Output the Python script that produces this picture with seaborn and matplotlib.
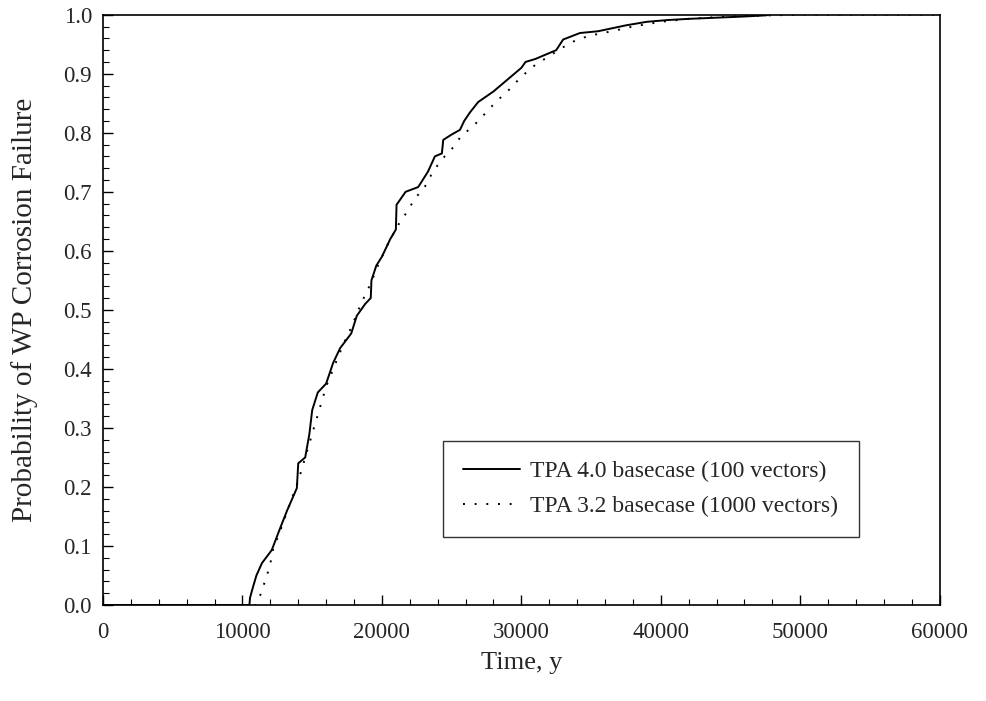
import matplotlib
matplotlib.use("Agg")
import matplotlib.pyplot as plt
import pandas as pd
import seaborn as sns
from matplotlib.ticker import MultipleLocator

# TPA 4.0 basecase (100 vectors)
tpa40_time = [0, 10500, 10540, 10750, 11000, 11400, 12100, 12700, 13200, 13900,
              14000, 14500, 14800, 15000, 15400, 16000, 16500, 17000, 17800, 18200,
              18800, 19200, 19250, 19600, 20000, 20600, 21000, 21050, 21700, 22600,
              23300, 23800, 24300, 24400, 25000, 25600, 25900, 26300, 26900, 28000,
              29000, 30000, 30300, 31000, 32500, 33000, 34200, 35500, 36500, 37500,
              39000, 40500, 42000, 44000, 46000, 47600]
tpa40_prob = [0.0, 0.0, 0.012, 0.03, 0.05, 0.071, 0.093, 0.13, 0.16, 0.198,
              0.24, 0.25, 0.29, 0.33, 0.36, 0.375, 0.41, 0.435, 0.46, 0.49,
              0.51, 0.52, 0.55, 0.575, 0.59, 0.62, 0.636, 0.678, 0.70, 0.708,
              0.734, 0.76, 0.765, 0.788, 0.797, 0.805, 0.82, 0.834, 0.852, 0.87,
              0.89, 0.91, 0.92, 0.925, 0.94, 0.958, 0.969, 0.972, 0.977, 0.982,
              0.988, 0.991, 0.993, 0.995, 0.997, 0.999]

# TPA 3.2 basecase (1000 vectors)
tpa32_time = [0, 11000, 11330, 11610, 11830, 12040, 12200, 12700, 13300, 14000,
              14500, 15000, 15500, 16000, 16600, 17200, 17800, 18500, 19200, 19800,
              20500, 21200, 21800, 22400, 23000, 23700, 24500, 25100, 25700, 26500,
              27300, 28200, 29000, 30000, 31000, 32000, 33000, 34000, 35000, 36500,
              38000, 40000, 42000, 44000, 46000, 48000, 50000, 60000]
tpa32_prob = [0.0, 0.0, 0.02, 0.04, 0.056, 0.075, 0.095, 0.125, 0.165, 0.21,
              0.25, 0.29, 0.33, 0.37, 0.405, 0.44, 0.47, 0.51, 0.545, 0.58,
              0.615, 0.645, 0.666, 0.69, 0.705, 0.736, 0.76, 0.775, 0.795, 0.81,
              0.83, 0.853, 0.87, 0.895, 0.915, 0.93, 0.945, 0.958, 0.965, 0.972,
              0.98, 0.988, 0.993, 0.996, 0.998, 0.999, 1.0, 1.0]

x_ticks = [0, 10000, 20000, 30000, 40000, 50000, 60000]
y_ticks = [0.0, 0.1, 0.2, 0.3, 0.4, 0.5, 0.6, 0.7, 0.8, 0.9, 1.0]

sns.set_theme(style="ticks")
plt.rcParams["font.family"] = ["Liberation Serif", "DejaVu Serif"]

df40 = pd.DataFrame({"time": tpa40_time, "prob": tpa40_prob})
df32 = pd.DataFrame({"time": tpa32_time, "prob": tpa32_prob})

fig = plt.figure(figsize=(9.86, 7.01), dpi=100)
ax = fig.add_axes([0.1045, 0.137, 0.8485, 0.842])

sns.lineplot(data=df40, x="time", y="prob", sort=False, estimator=None,
             color="black", linewidth=1.4, label="TPA 4.0 basecase (100 vectors)", ax=ax)
sns.lineplot(data=df32, x="time", y="prob", sort=False, estimator=None,
             color="black", linewidth=1.4, linestyle=(0, (1, 5)),
             label="TPA 3.2 basecase (1000 vectors)", ax=ax)

ax.set_xlim(0, 60000)
ax.set_ylim(0, 1.0)
ax.set_xticks(x_ticks)
ax.set_yticks(y_ticks)
ax.set_yticklabels([f"{v:.1f}" for v in y_ticks])
ax.xaxis.set_minor_locator(MultipleLocator(2000))
ax.yaxis.set_minor_locator(MultipleLocator(0.02))
ax.tick_params(which="major", direction="in", length=7, width=1.0, color="black",
               labelsize=16.5, pad=8)
ax.tick_params(axis="x", which="major", pad=12)
ax.tick_params(which="minor", direction="in", length=4, width=0.8, color="black")

for sp in ax.spines.values():
    sp.set_color("black")
    sp.set_linewidth(1.2)

ax.set_xlabel("Time, y", fontsize=19, labelpad=7)
ax.set_ylabel("Probability of WP Corrosion Failure", fontsize=21)
ax.yaxis.set_label_coords(-0.078, 0.5)

leg = ax.legend(loc="lower right", bbox_to_anchor=(0.903, 0.115), fontsize=17,
                frameon=True, fancybox=False, edgecolor="black", handlelength=2.4,
                borderpad=0.85, labelspacing=0.55, handletextpad=0.45, borderaxespad=0)
leg.get_frame().set_linewidth(1.0)

fig.savefig("out.png", dpi=100)
